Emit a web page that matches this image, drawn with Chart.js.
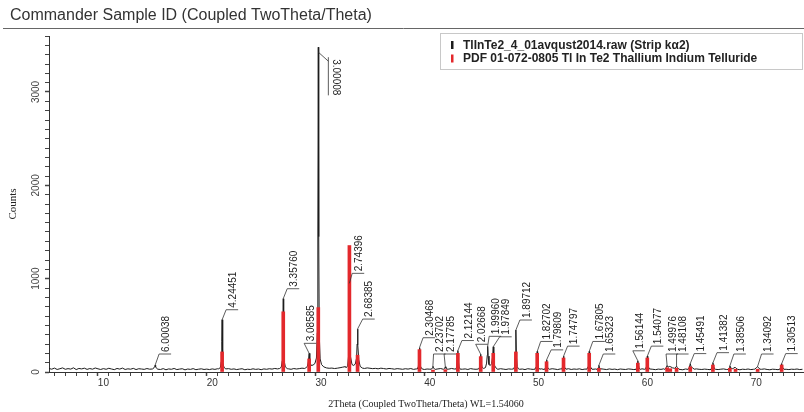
<!DOCTYPE html>
<html>
<head>
<meta charset="utf-8">
<title>Commander Sample ID (Coupled TwoTheta/Theta)</title>
<script src="https://cdn.jsdelivr.net/npm/chart.js@4.4.1/dist/chart.umd.min.js"></script>
<style>
  html, body { margin: 0; padding: 0; background: #ffffff; }
  #wrap { position: relative; width: 804px; height: 412px; }
</style>
</head>
<body>
<div id="wrap"><canvas id="xrd"></canvas></div>
<script>
// ---- Measured scan (2Theta, counts) ----
const scanStart = 5;      // degrees 2Theta
const scanStep = 0.25;    // background sampling step
const backgroundCounts = [
  38, 30, 42, 27, 35, 44, 29, 36, 31, 45, 26, 38, 33, 41, 28, 37, 30, 43, 34, 27,
  36, 29, 40, 32, 25, 38, 31, 42, 27, 34, 30, 39, 26, 35, 32, 28, 37, 30, 33, 29,
  31, 27, 36, 24, 33, 29, 38, 26, 31, 35, 23, 32, 28, 36, 25, 30, 34, 27, 31, 26,
  33, 28, 35, 30, 40, 45, 36, 29, 33, 26, 31, 35, 24, 30, 27, 34, 28, 32, 25, 33,
  29, 35, 31, 38, 33, 27, 36, 30, 34, 29, 37, 32, 36, 41, 38, 44, 40, 47, 52, 60,
  55, 48, 44, 40, 42, 37, 41, 46, 52, 58, 62, 55, 50, 45, 47, 42, 38, 44, 40, 36,
  39, 34, 41, 37, 32, 38, 35, 30, 36, 33, 29, 35, 31, 37, 28, 33, 30, 35, 27, 32,
  30, 36, 28, 33, 37, 29, 34, 31, 38, 32, 28, 35, 30, 33, 27, 36, 31, 29, 34, 30,
  32, 36, 40, 38, 34, 29, 35, 31, 27, 33, 30, 36, 34, 29, 32, 26, 35, 31, 28, 33,
  30, 34, 27, 32, 29, 35, 31, 26, 33, 28, 30, 35, 27, 32, 29, 34, 26, 31, 28, 33,
  29, 32, 27, 34, 30, 26, 33, 28, 31, 25, 32, 29, 27, 33, 30, 26, 31, 28, 34, 29,
  27, 32, 29, 25, 31, 28, 34, 30, 26, 33, 29, 31, 27, 24, 32, 28, 30, 26, 33, 29,
  27, 31, 28, 25, 32, 29, 26, 30, 33, 27, 29, 25, 31, 28, 24, 30, 27, 32, 26, 29,
  31, 26, 29, 33, 27, 24, 30, 28, 25, 31, 27, 29, 26, 30, 28, 32, 26, 29
];

// Reflection profiles, each a list of [2Theta, counts]
const peakProfiles = [
  [[14.5,32],[14.62,40],[14.7,58],[14.75,72],[14.8,55],[14.9,38],[15.0,30]],
  [[20.6,34],[20.75,48],[20.83,110],[20.88,330],[20.91,560],[20.94,320],[20.99,105],[21.08,50],[21.25,33]],
  [[26.2,38],[26.35,52],[26.44,120],[26.49,420],[26.53,785],[26.57,400],[26.62,115],[26.72,55],[26.9,36]],
  [[28.6,45],[28.75,60],[28.84,110],[28.91,200],[28.97,105],[29.1,70],[29.3,75],[29.45,95],[29.58,150],
   [29.66,420],[29.71,1500],[29.75,3480],[29.79,1450],[29.84,400],[29.92,140],[30.05,80],[30.25,55]],
  [[32.3,45],[32.45,65],[32.54,180],[32.58,500],[32.61,950],[32.65,480],[32.7,170],[32.85,80],[33.0,70],
   [33.15,85],[33.27,150],[33.32,300],[33.36,460],[33.4,290],[33.47,130],[33.6,60],[33.8,42]],
  [[38.85,32],[38.95,60],[39.01,150],[39.05,260],[39.09,145],[39.16,55],[39.3,32]],
  [[40.15,30],[40.24,45],[40.29,62],[40.34,44],[40.45,30]],
  [[41.3,29],[41.38,42],[41.43,56],[41.48,40],[41.58,30]],
  [[42.38,31],[42.48,55],[42.54,130],[42.58,230],[42.62,125],[42.69,52],[42.8,30]],
  [[44.48,32],[44.58,52],[44.64,110],[44.68,190],[44.72,105],[44.8,50],[44.95,38],[45.12,48],[45.22,95],
   [45.28,180],[45.32,275],[45.36,170],[45.44,80],[45.56,70],[45.68,90],[45.77,160],[45.83,270],[45.88,150],
   [45.96,65],[46.15,35]],
  [[47.7,33],[47.8,58],[47.86,170],[47.91,450],[47.96,165],[48.03,58],[48.15,33]],
  [[49.67,31],[49.77,55],[49.83,120],[49.87,220],[49.91,115],[49.98,50],[50.1,30]],
  [[50.55,30],[50.65,50],[50.7,90],[50.73,130],[50.77,85],[50.84,45],[50.95,30]],
  [[52.1,30],[52.2,52],[52.25,105],[52.29,170],[52.33,100],[52.4,48],[52.52,30]],
  [[54.45,31],[54.55,58],[54.61,125],[54.65,220],[54.69,120],[54.76,55],[54.9,30]],
  [[55.38,28],[55.47,45],[55.54,72],[55.6,44],[55.72,29]],
  [[58.95,29],[59.04,50],[59.09,85],[59.12,120],[59.16,80],[59.23,45],[59.35,28]],
  [[59.82,30],[59.91,58],[59.96,110],[59.99,170],[60.03,105],[60.1,52],[60.22,30]],
  [[61.6,28],[61.72,45],[61.81,70],[61.9,52],[62.05,60],[62.15,55],[62.3,45],[62.5,40],[62.62,52],
   [62.68,62],[62.75,48],[62.9,30]],
  [[63.75,28],[63.85,48],[63.94,90],[64.02,52],[64.15,45],[64.3,30]],
  [[65.85,29],[65.95,55],[66.02,100],[66.08,58],[66.2,30]],
  [[67.4,27],[67.5,42],[67.58,66],[67.65,45],[67.8,35],[67.95,42],[68.05,52],[68.15,40],[68.3,28]],
  [[69.85,30],[69.98,42],[70.05,50],[70.13,58],[70.2,46],[70.35,30]],
  [[72.15,28],[72.25,50],[72.34,90],[72.42,50],[72.55,29]]
];

// ---- Reference pattern PDF 01-072-0805 (stick positions and intensities) ----
const pdfTwoTheta = [20.91, 26.53, 28.91, 29.75, 32.61, 33.36, 39.05, 40.29, 41.43, 42.58, 44.68,
  45.83, 47.91, 49.87, 50.73, 52.29, 54.65, 55.54, 59.12, 59.99, 61.81, 62.1, 62.68, 63.94,
  66.02, 67.58, 68.1, 70.13, 72.34];
const pdfCounts = [215, 645, 140, 690, 1355, 180, 240, 20, 25, 200, 165,
  200, 215, 200, 110, 150, 200, 40, 95, 150, 45, 35, 40, 55,
  75, 40, 30, 30, 75];

// ---- Peak annotations: d-spacings in Angstrom ----
const wavelength = 1.54060;
const dSpacings = [6.00038, 4.24451, 3.35760, 3.08585, 3.00008, 2.74396, 2.68385, 2.30468, 2.23702,
  2.17785, 2.12144, 2.02668, 1.99960, 1.97849, 1.89712, 1.82702, 1.79809, 1.74797, 1.67805,
  1.65323, 1.56144, 1.54077, 1.49976, 1.48108, 1.45491, 1.41382, 1.38506, 1.34092, 1.30513];

// ---- Axis ticks ----
const xRange = [5, 74.3];
const yRange = [0, 3600];
const xMajorTicks = [10, 20, 30, 40, 50, 60, 70];
const yMajorTicks = [0, 1000, 2000, 3000];

const seriesLabels = ['TlInTe2_4_01avqust2014.raw (Strip k\u03b12)',
  'PDF 01-072-0805 Tl In Te2 Thallium Indium Telluride'];

function buildScan() {
  const pts = [];
  backgroundCounts.forEach((c, i) => {
    const x = scanStart + i * scanStep;
    const covered = peakProfiles.some(p => x >= p[0][0] && x <= p[p.length - 1][0]);
    if (!covered) pts.push({ x, y: c });
  });
  peakProfiles.forEach(p => p.forEach(([x, y]) => pts.push({ x, y })));
  pts.sort((a, b) => a.x - b.x);
  return pts;
}

const scanData = buildScan();
const pdfData = pdfTwoTheta.map((x, i) => ({ x, y: pdfCounts[i] }));

const narrowFont = '"Liberation Sans Narrow", "Arial Narrow", Arial, sans-serif';
const sansFont = 'Arial, "Liberation Sans", sans-serif';
const serifFont = '"Times New Roman", "Liberation Serif", serif';

// Title line with a rule beneath it
const headerPlugin = {
  id: 'header',
  beforeDraw(chart) {
    const { ctx, width, height } = chart;
    ctx.save();
    ctx.fillStyle = '#ffffff';
    ctx.fillRect(0, 0, width, height);
    ctx.fillStyle = '#333333';
    ctx.font = '16px ' + sansFont;
    ctx.textBaseline = 'middle';
    ctx.textAlign = 'left';
    ctx.fillText('Commander Sample ID (Coupled TwoTheta/Theta)', 10, 16);
    ctx.strokeStyle = '#666666';
    ctx.lineWidth = 1;
    ctx.beginPath();
    ctx.moveTo(3, 28.5);
    ctx.lineTo(width, 28.5);
    ctx.stroke();
    ctx.restore();
  }
};

// Boxed legend in the upper right corner
const legendBoxPlugin = {
  id: 'legendBox',
  afterDraw(chart) {
    const { ctx } = chart;
    ctx.save();
    ctx.strokeStyle = '#c8c8c8';
    ctx.lineWidth = 1;
    ctx.strokeRect(440.5, 33.5, 362, 36);
    chart.data.datasets.forEach((ds, i) => {
      const cy = 45 + i * 13.5;
      ctx.fillStyle = ds.type === 'bar' ? ds.backgroundColor : ds.borderColor;
      ctx.fillRect(451, cy - 4, 2.5, 8);
      ctx.fillStyle = '#222222';
      ctx.font = 'bold 12px ' + sansFont;
      ctx.textBaseline = 'middle';
      ctx.textAlign = 'left';
      ctx.fillText(ds.label, 463, cy + 0.5);
    });
    ctx.restore();
  }
};

// d-spacing labels with leader lines
const peakLabelPlugin = {
  id: 'peakLabels',
  afterDatasetsDraw(chart) {
    const { ctx, chartArea, scales: { x, y } } = chart;
    const scan = chart.data.datasets[0].data;
    ctx.save();
    ctx.font = '10px ' + narrowFont;
    const items = dSpacings.map(d => {
      const tt = 2 * Math.asin(wavelength / (2 * d)) * 180 / Math.PI;
      let top = 0;
      scan.forEach(p => { if (Math.abs(p.x - tt) <= 0.12 && p.y > top) top = p.y; });
      const px = x.getPixelForValue(tt);
      const py = y.getPixelForValue(top);
      const text = d.toFixed(5);
      const w = ctx.measureText(text).width;
      return { tt, top, px, py, text, w, flipped: py - 14 - w < chartArea.top };
    });

    const normal = items.filter(it => !it.flipped);
    normal.forEach(it => {
      const crowded = items.some(o => o !== it && o.px > it.px && o.px - it.px <= 16 && o.top > it.top);
      it.want = it.px + (crowded ? 2 : 11);
    });
    const gap = 10.5;
    const clusters = [];
    normal.slice().sort((a, b) => a.want - b.want).forEach(it => {
      clusters.push({ members: [it], start: it.want });
      while (clusters.length > 1) {
        const b = clusters[clusters.length - 1];
        const a = clusters[clusters.length - 2];
        if (a.start + a.members.length * gap <= b.start) break;
        const members = a.members.concat(b.members);
        const start = members.reduce((s, m, k) => s + m.want - k * gap, 0) / members.length;
        clusters.splice(-2, 2, { members, start });
      }
    });
    clusters.forEach(c => c.members.forEach((m, k) => { m.tx = c.start + k * gap; }));

    const floor = y.getPixelForValue(0) - 18;
    ctx.strokeStyle = '#333333';
    ctx.fillStyle = '#222222';
    ctx.lineWidth = 0.8;
    normal.forEach(m => {
      const segY = Math.min(m.py - 10, floor);
      const sx = m.tx - 7, ex = m.tx + 5;
      ctx.beginPath();
      ctx.moveTo(m.px, m.py);
      ctx.lineTo(sx, segY);
      ctx.lineTo(ex, segY);
      ctx.stroke();
      ctx.save();
      ctx.translate(m.tx, segY - 2);
      ctx.rotate(-Math.PI / 2);
      ctx.textAlign = 'left';
      ctx.textBaseline = 'middle';
      ctx.fillText(m.text, 0, 0);
      ctx.restore();
    });

    items.filter(it => it.flipped).forEach(m => {
      const lx = m.px + 10;
      ctx.beginPath();
      ctx.moveTo(m.px, m.py + 5);
      ctx.lineTo(lx, m.py + 14);
      ctx.moveTo(lx, m.py + 10);
      ctx.lineTo(lx, m.py + 12 + m.w);
      ctx.stroke();
      ctx.save();
      ctx.translate(lx + 7, m.py + 12);
      ctx.rotate(Math.PI / 2);
      ctx.textAlign = 'left';
      ctx.textBaseline = 'middle';
      ctx.fillText(m.text, 0, 0);
      ctx.restore();
    });
    ctx.restore();
  }
};

new Chart(document.getElementById('xrd'), {
  type: 'line',
  data: {
    datasets: [
      {
        type: 'line',
        label: seriesLabels[0],
        data: scanData,
        borderColor: '#1c1c1c',
        borderWidth: 1,
        pointRadius: 0,
        tension: 0,
        order: 1
      },
      {
        type: 'bar',
        label: seriesLabels[1],
        data: pdfData,
        backgroundColor: '#e3282c',
        borderWidth: 0,
        barThickness: 3,
        order: 0
      }
    ]
  },
  options: {
    responsive: true,
    maintainAspectRatio: false,
    animation: false,
    devicePixelRatio: 1,
    layout: { padding: { top: 36, right: 1, bottom: 0, left: 0 } },
    plugins: {
      legend: { display: false },
      tooltip: { enabled: false },
      title: { display: false }
    },
    scales: {
      x: {
        type: 'linear',
        min: xRange[0],
        max: xRange[1],
        offset: false,
        afterBuildTicks(scale) {
          scale.ticks = scale.ticks.filter(t => Number.isInteger(t.value));
        },
        afterFit(scale) { scale.height = 40; },
        ticks: {
          stepSize: 1,
          autoSkip: false,
          maxRotation: 0,
          minRotation: 0,
          padding: 1,
          color: '#333333',
          font: { family: sansFont, size: 10 },
          callback: v => (xMajorTicks.includes(v) ? String(v) : '')
        },
        grid: {
          drawOnChartArea: false,
          drawTicks: true,
          tickLength: 4,
          tickColor: '#444444',
          tickWidth: c => (c.tick && xMajorTicks.includes(c.tick.value) ? 1.5 : 1)
        },
        border: { display: true, color: '#333333', width: 1 },
        title: {
          display: true,
          text: '2Theta (Coupled TwoTheta/Theta) WL=1.54060',
          color: '#222222',
          font: { family: serifFont, size: 10 },
          padding: { top: 0, bottom: 2 }
        }
      },
      y: {
        type: 'linear',
        min: yRange[0],
        max: yRange[1],
        afterFit(scale) { scale.width = 49; },
        ticks: {
          stepSize: 100,
          autoSkip: false,
          minRotation: 90,
          maxRotation: 90,
          crossAlign: 'center',
          padding: -2,
          color: '#444444',
          font: { family: narrowFont, size: 10 },
          callback: v => (yMajorTicks.includes(v) ? String(v) : '')
        },
        grid: {
          drawOnChartArea: false,
          drawTicks: true,
          tickLength: 4,
          tickColor: '#444444',
          tickWidth: c => (c.tick && yMajorTicks.includes(c.tick.value) ? 1.5 : 1)
        },
        border: { display: true, color: '#333333', width: 1 },
        title: {
          display: true,
          text: 'Counts',
          color: '#222222',
          font: { family: serifFont, size: 11 },
          padding: { top: 7, bottom: 0 }
        }
      }
    }
  },
  plugins: [headerPlugin, peakLabelPlugin, legendBoxPlugin]
});
</script>
</body>
</html>
